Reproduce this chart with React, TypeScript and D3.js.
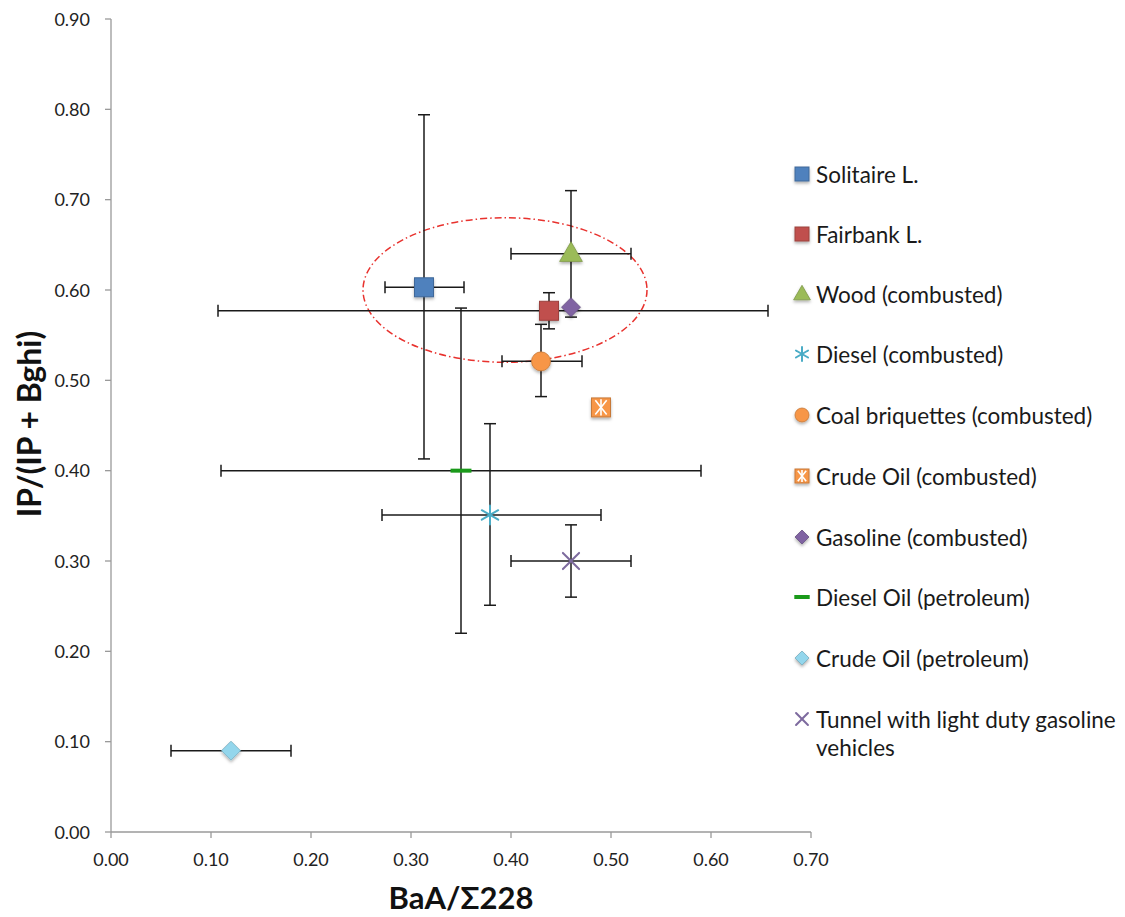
import React from "react";
import * as d3 from "d3";

// Series shown in the scatter, in legend order
const seriesNames = [
  "Solitaire L.",
  "Fairbank L.",
  "Wood (combusted)",
  "Diesel (combusted)",
  "Coal briquettes (combusted)",
  "Crude Oil (combusted)",
  "Gasoline (combusted)",
  "Diesel Oil (petroleum)",
  "Crude Oil (petroleum)",
  "Tunnel with light duty gasoline vehicles",
];
const markerKinds = ["square", "square", "triangle", "asterisk", "circle", "starSquare", "diamond", "dash", "diamond", "cross"];
const seriesColors = ["#4F81BD", "#C0504D", "#9BBB59", "#4BACC6", "#F79646", "#F79646", "#8064A2", "#1A9A1A", "#93D6EC", "#7D6A9E"];

// BaA/Σ228 and IP/(IP + Bghi) ratios
const xValues = [0.313, 0.438, 0.46, 0.379, 0.43, 0.49, 0.46, 0.35, 0.12, 0.46];
const yValues = [0.603, 0.577, 0.64, 0.351, 0.521, 0.47, 0.581, 0.40, 0.09, 0.30];
// error bar extents (null = no bar)
const xLow: (number | null)[] = [0.274, 0.107, 0.40, 0.271, 0.391, null, null, 0.11, 0.06, 0.40];
const xHigh: (number | null)[] = [0.353, 0.657, 0.52, 0.49, 0.471, null, null, 0.59, 0.18, 0.52];
const yLow: (number | null)[] = [0.413, 0.557, 0.57, 0.251, 0.482, null, null, 0.22, null, 0.26];
const yHigh: (number | null)[] = [0.794, 0.597, 0.71, 0.452, 0.562, null, null, 0.58, null, 0.34];

const xTicks = [0, 0.1, 0.2, 0.3, 0.4, 0.5, 0.6, 0.7];
const yTicks = [0, 0.1, 0.2, 0.3, 0.4, 0.5, 0.6, 0.7, 0.8, 0.9];

// highlighted cluster
const clusterCenter = [0.394, 0.60];
const clusterRadius = [0.142, 0.08];

const W = 1125;
const H = 917;
const left = 111, right = 811, top = 19, bottom = 832;
const FONT = "Lato, 'Open Sans', sans-serif";

function Marker({ kind, color, x, y, s }: { kind: string; color: string; x: number; y: number; s: number }) {
  const h = s / 2;
  const stroke = d3.color(color)!.darker(0.6).toString();
  switch (kind) {
    case "square":
      return <rect x={x - h} y={y - h} width={s} height={s} fill={color} stroke={stroke} strokeWidth={1} filter="url(#shadow)" />;
    case "starSquare":
      return (
        <g filter="url(#shadow)">
          <rect x={x - h} y={y - h} width={s} height={s} fill={color} stroke={stroke} strokeWidth={1} />
          <g stroke="#fff" strokeWidth={1.6}>
            <line x1={x - h * 0.6} y1={y - h * 0.75} x2={x + h * 0.6} y2={y + h * 0.75} />
            <line x1={x - h * 0.6} y1={y + h * 0.75} x2={x + h * 0.6} y2={y - h * 0.75} />
            <line x1={x} y1={y - h * 0.85} x2={x} y2={y + h * 0.85} />
          </g>
        </g>
      );
    case "triangle": {
      const sym = d3.symbol(d3.symbolTriangle, s * s * 0.62)();
      return <path d={sym!} transform={`translate(${x},${y + 1})`} fill={color} stroke={stroke} strokeWidth={0.8} filter="url(#shadow)" />;
    }
    case "circle":
      return <circle cx={x} cy={y} r={h} fill={color} stroke={stroke} strokeWidth={0.8} filter="url(#shadow)" />;
    case "diamond": {
      const r = h * 1.0;
      return (
        <path d={`M${x},${y - r}L${x + r},${y}L${x},${y + r}L${x - r},${y}Z`} fill={color} stroke={stroke} strokeWidth={0.8} filter="url(#shadow)" />
      );
    }
    case "asterisk": {
      const r = h;
      const a = r * Math.cos(Math.PI / 6), b = r * Math.sin(Math.PI / 6);
      return (
        <g stroke={color} strokeWidth={2} strokeLinecap="round">
          <line x1={x} y1={y - r} x2={x} y2={y + r} />
          <line x1={x - a} y1={y - b} x2={x + a} y2={y + b} />
          <line x1={x - a} y1={y + b} x2={x + a} y2={y - b} />
        </g>
      );
    }
    case "cross": {
      const r = h * 0.85;
      return (
        <g stroke={color} strokeWidth={2} strokeLinecap="round">
          <line x1={x - r} y1={y - r} x2={x + r} y2={y + r} />
          <line x1={x - r} y1={y + r} x2={x + r} y2={y - r} />
        </g>
      );
    }
    case "dash":
      return <line x1={x - h * 1.1} y1={y} x2={x + h * 1.1} y2={y} stroke={color} strokeWidth={4} />;
    default:
      return null;
  }
}

export default function App() {
  const x = d3.scaleLinear().domain([0, 0.7]).range([left, right]);
  const y = d3.scaleLinear().domain([0, 0.9]).range([bottom, top]);
  const cap = 6;

  const legendX = 802;
  const legendY = [175, 235, 295, 355, 416, 477, 538, 598, 659, 720];

  return (
    <svg width={W} height={H} style={{ position: "absolute", left: 0, top: 0, background: "#fff" }} fontFamily={FONT}>
      <defs>
        <filter id="shadow" x="-50%" y="-50%" width="200%" height="200%">
          <feDropShadow dx="0" dy="2" stdDeviation="1.5" floodColor="#000" floodOpacity="0.3" />
        </filter>
      </defs>

      {/* axes */}
      <g stroke="#9a9a9a" strokeWidth={1.3}>
        <line x1={left} y1={top} x2={left} y2={bottom} />
        <line x1={left} y1={bottom} x2={right} y2={bottom} />
        {yTicks.map((t) => (
          <line key={"yt" + t} x1={left - 6} x2={left} y1={y(t)} y2={y(t)} />
        ))}
        {xTicks.map((t) => (
          <line key={"xt" + t} x1={x(t)} x2={x(t)} y1={bottom} y2={bottom + 6} />
        ))}
      </g>
      <g fontSize={18} fill="#222">
        {yTicks.map((t) => (
          <text key={"yl" + t} x={left - 21} y={y(t) + 6.5} textAnchor="end">
            {t.toFixed(2)}
          </text>
        ))}
        {xTicks.map((t) => (
          <text key={"xl" + t} x={x(t)} y={bottom + 34} textAnchor="middle">
            {t.toFixed(2)}
          </text>
        ))}
      </g>
      <text x={461} y={909} textAnchor="middle" fontSize={31} fontWeight="bold" fill="#111">
        BaA/Σ228
      </text>
      <text transform={`translate(41,${424}) rotate(-90)`} textAnchor="middle" fontSize={32} fontWeight="bold" fill="#111">
        IP/(IP + Bghi)
      </text>

      {/* cluster outline */}
      <ellipse
        cx={x(clusterCenter[0])}
        cy={y(clusterCenter[1])}
        rx={x(clusterRadius[0]) - x(0)}
        ry={y(0) - y(clusterRadius[1])}
        fill="none"
        stroke="#E8322E"
        strokeWidth={1.5}
        strokeDasharray="7 3 1.5 3"
      />

      {/* error bars */}
      <g stroke="#1a1a1a" strokeWidth={1.5}>
        {seriesNames.map((_, i) => {
          const cx = x(xValues[i]), cy = y(yValues[i]);
          const parts: React.ReactNode[] = [];
          if (xLow[i] != null && xHigh[i] != null) {
            const a = x(xLow[i] as number), b = x(xHigh[i] as number);
            parts.push(<line key="h" x1={a} x2={b} y1={cy} y2={cy} />);
            parts.push(<line key="hl" x1={a} x2={a} y1={cy - cap} y2={cy + cap} />);
            parts.push(<line key="hr" x1={b} x2={b} y1={cy - cap} y2={cy + cap} />);
          }
          if (yLow[i] != null && yHigh[i] != null) {
            const a = y(yLow[i] as number), b = y(yHigh[i] as number);
            parts.push(<line key="v" x1={cx} x2={cx} y1={a} y2={b} />);
            parts.push(<line key="vl" x1={cx - cap} x2={cx + cap} y1={a} y2={a} />);
            parts.push(<line key="vh" x1={cx - cap} x2={cx + cap} y1={b} y2={b} />);
          }
          return <g key={i}>{parts}</g>;
        })}
      </g>

      {/* markers */}
      {seriesNames.map((_, i) => (
        <Marker key={i} kind={markerKinds[i]} color={seriesColors[i]} x={x(xValues[i])} y={y(yValues[i])} s={19} />
      ))}

      {/* legend */}
      {seriesNames.map((name, i) => {
        const ly = legendY[i];
        const wrap = name.startsWith("Tunnel");
        return (
          <g key={"lg" + i}>
            <Marker kind={markerKinds[i]} color={seriesColors[i]} x={legendX} y={ly - 1} s={14} />
            <text x={816} y={ly + 8} fontSize={22.5} fill="#1a1a1a">
              {wrap ? "Tunnel with light duty gasoline" : name}
            </text>
            {wrap && (
              <text x={816} y={ly + 36} fontSize={22.5} fill="#1a1a1a">
                vehicles
              </text>
            )}
          </g>
        );
      })}
    </svg>
  );
}
